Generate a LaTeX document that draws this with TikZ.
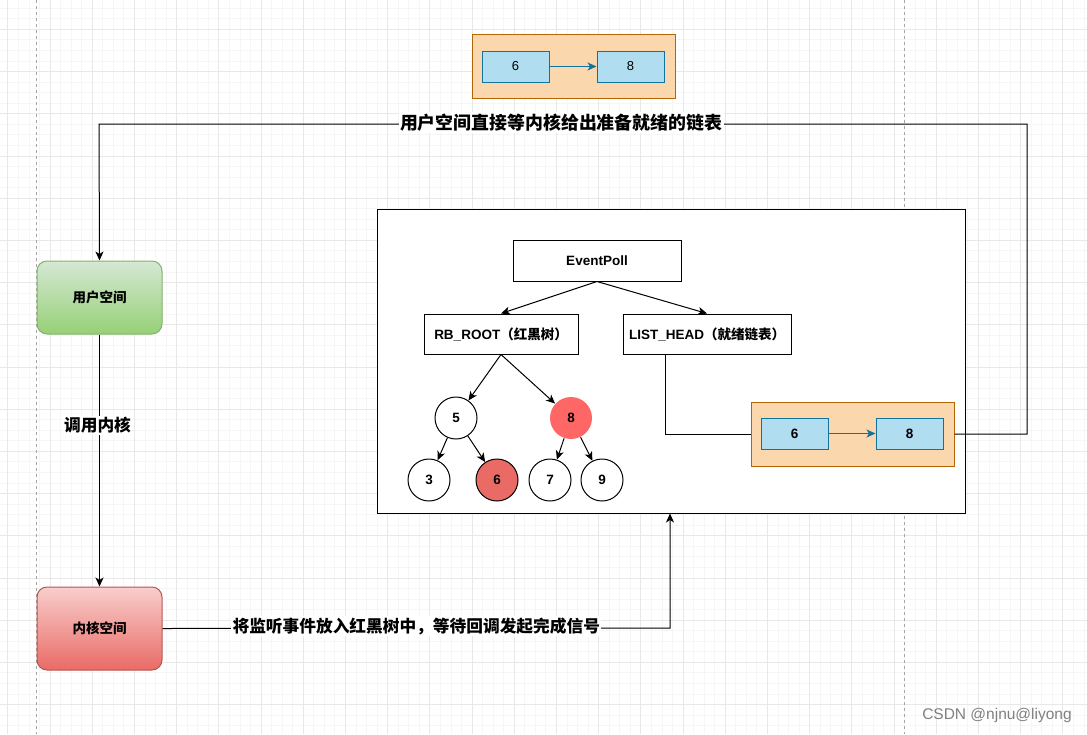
\documentclass[tikz,border=0pt]{standalone}
\usepackage{fontspec}
\setmainfont{Liberation Sans}
\newfontfamily\cjk{Noto Sans CJK SC}
\usetikzlibrary{arrows.meta,calc}
\definecolor{gminor}{HTML}{F6F6F6}
\definecolor{gmajor}{HTML}{E8E8E8}
\definecolor{orfill}{HTML}{FAD7AC}
\definecolor{ordraw}{HTML}{B46504}
\definecolor{blfill}{HTML}{B1DDF0}
\definecolor{bldraw}{HTML}{10739E}
\definecolor{grtop}{HTML}{D5E8D4}
\definecolor{grbot}{HTML}{97D077}
\definecolor{grdraw}{HTML}{82B366}
\definecolor{rdtop}{HTML}{F8CECC}
\definecolor{rdbot}{HTML}{EA6B66}
\definecolor{rddraw}{HTML}{B85450}
\definecolor{redone}{HTML}{FF6666}
\definecolor{redtwo}{HTML}{EA6B66}
\tikzset{
  ebox/.style={draw=black, line width=1pt, fill=white, inner sep=0pt, font=\fontsize{13.5}{15}\selectfont\bfseries},
  obox/.style={draw=ordraw, line width=1pt, fill=orfill, inner sep=0pt, minimum width=203pt, minimum height=64pt},
  bbox/.style={draw=bldraw, line width=1pt, fill=blfill, inner sep=0pt, minimum width=67pt, minimum height=31pt, font=\fontsize{13}{15}\selectfont},
  circ/.style={circle, draw=black, line width=1pt, fill=white, minimum size=42pt, inner sep=0pt, font=\fontsize{13.5}{15}\selectfont\bfseries},
  arr/.style={draw=black, line width=1pt, -{Stealth[length=9pt,width=8pt,inset=2.5pt]}},
  barr/.style={draw=bldraw, line width=1pt, -{Stealth[length=9pt,width=8pt,inset=2.5pt]}},
  plain/.style={draw=black, line width=1pt},
  lbl/.style={fill=white, inner sep=1.5pt, font=\cjk\fontsize{16.7}{18}\selectfont\bfseries},
  gnode/.style={rounded corners=10pt, line width=1pt, inner sep=0pt, minimum width=125pt, font=\cjk\fontsize{13.5}{15}\selectfont\bfseries}
}
\begin{document}
\begin{tikzpicture}[x=1pt,y=-1pt]
\useasboundingbox (0,0) rectangle (1087,734);
\fill[white] (0,0) rectangle (1087,734);
% grid
\foreach \i in {0,...,103} \draw[gminor, line width=0.8pt] ({7.8+10.55*\i},0) -- ({7.8+10.55*\i},734);
\foreach \i in {0,...,70} \draw[gminor, line width=0.8pt] (0,{8.2+10.55*\i}) -- (1087,{8.2+10.55*\i});
\foreach \i in {0,...,25} \draw[gmajor, line width=0.8pt] ({7.8+42.2*\i},0) -- ({7.8+42.2*\i},734);
\foreach \i in {-1,...,17} \draw[gmajor, line width=0.8pt] (0,{29.3+42.2*\i}) -- (1087,{29.3+42.2*\i});
\draw[gray!70, line width=0.8pt, dash pattern=on 3pt off 3pt] (36,0) -- (36,734);
\draw[gray!70, line width=0.8pt, dash pattern=on 3pt off 3pt] (904,0) -- (904,734);

% top list
\node[obox] (ot) at (573.5,66) {};
\node[bbox] (t6) at (515.5,66.5) {6};
\node[bbox] (t8) at (630.5,66.5) {8};
\draw[barr] (t6) -- (t8);

% user / kernel
\shade[top color=grtop, bottom color=grbot, rounded corners=10pt] (37,261) rectangle (162,334);
\node[gnode, draw=grdraw, minimum height=73pt] (user) at (99.5,297.5) {用户空间};
\shade[top color=rdtop, bottom color=rdbot, rounded corners=10pt] (37,587) rectangle (162,670);
\node[gnode, draw=rddraw, minimum height=83pt] (kern) at (99.5,628.5) {内核空间};

% big box
\node[draw=black, line width=1pt, fill=white, minimum width=588pt, minimum height=304pt, inner sep=0pt] (big) at (671,361) {};
\node[ebox, minimum width=168pt, minimum height=41pt] (ep) at (597,260.5) {EventPoll};
\node[ebox, minimum width=154pt, minimum height=40pt] (rb) at (501,334) {RB\_ROOT{\cjk（红黑树）}};
\node[ebox, minimum width=168pt, minimum height=40pt] (lh) at (707,334) {LIST\_HEAD{\cjk（就绪链表）}};
\draw[arr] (ep.south) -- (rb.north);
\draw[arr] (ep.south) -- (lh.north);

\node[circ] (c5) at (456,418) {5};
\node[circ, draw=none, fill=redone] (c8) at (571,418) {8};
\node[circ] (c3) at (429,480) {3};
\node[circ, fill=redtwo] (c6) at (497,480) {6};
\node[circ] (c7) at (550,480) {7};
\node[circ] (c9) at (602,480) {9};
\draw[arr] (rb.south) -- (c5);
\draw[arr] (rb.south) -- (c8);
\draw[arr] (c5) -- (c3);
\draw[arr] (c5) -- (c6);
\draw[arr] (c8) -- (c7);
\draw[arr] (c8) -- (c9);

% lower list
\node[obox] (ob) at (852.5,434) {};
\node[bbox, font=\fontsize{13.5}{15}\selectfont\bfseries] (b6) at (794.5,433.5) {6};
\node[bbox, font=\fontsize{13.5}{15}\selectfont\bfseries] (b8) at (909.5,433.5) {8};
\draw[barr] (b6) -- (b8);
\draw[plain] ([xshift=-42pt]lh.south) |- (ob.west);

% connectors
\coordinate (r1) at (1027,434);
\coordinate (r2) at (1027,124);
\coordinate (r3) at (99,124);
\draw[arr] (ob.east) -- (r1) -- (r2) -- node[lbl, pos=0.502, yshift=1.5pt, font=\cjk\fontsize{17.9}{19}\selectfont\bfseries]{用户空间直接等内核给出准备就绪的链表} (r3) -- (user.north);
\draw[arr] (user.south) -- node[lbl, pos=0.36, xshift=-2pt]{调用内核} (kern.north);
\coordinate (k1) at (670,628);
\draw[arr] (kern.east) -- node[lbl, pos=0.5, yshift=2pt]{将监听事件放入红黑树中，等待回调发起完成信号} (k1) -- (k1 |- big.south);

% watermark
\node[text=black!50, font=\fontsize{15.5}{17}\selectfont] (wm) at (997,715) {CSDN @njnu@liyong};
\end{tikzpicture}
\end{document}
